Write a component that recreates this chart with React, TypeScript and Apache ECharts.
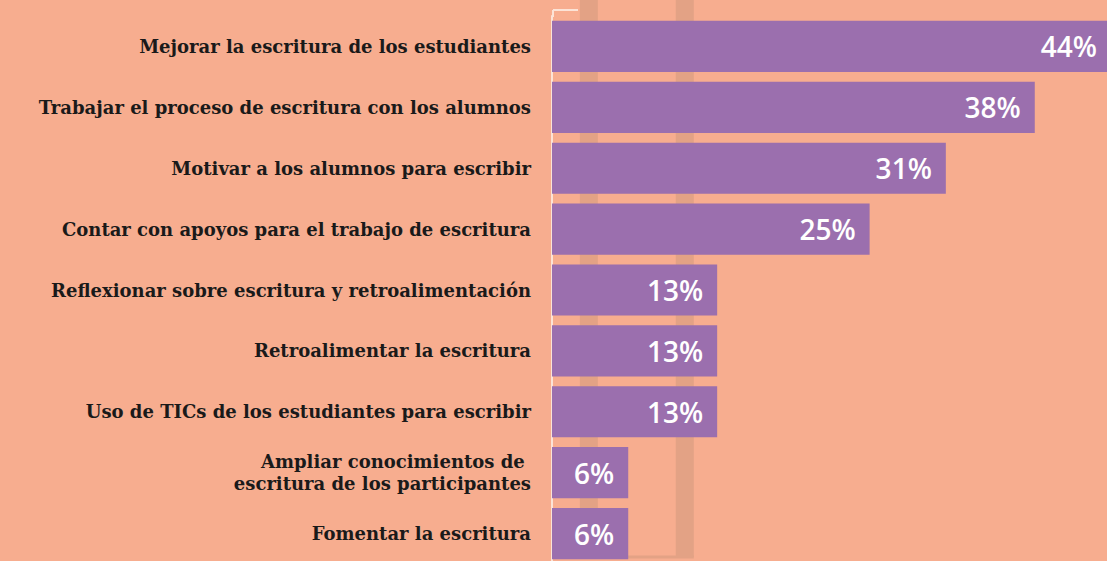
import React, { useEffect, useRef } from "react";
import * as echarts from "echarts";

const categories = [
  "Mejorar la escritura de los estudiantes",
  "Trabajar el proceso de escritura con los alumnos",
  "Motivar a los alumnos para escribir",
  "Contar con apoyos para el trabajo de escritura",
  "Reflexionar sobre escritura y retroalimentación",
  "Retroalimentar la escritura",
  "Uso de TICs de los estudiantes para escribir",
  "Ampliar conocimientos de \nescritura de los participantes",
  "Fomentar la escritura",
];
const values = [44, 38, 31, 25, 13, 13, 13, 6, 6];
const bandPositions = [2.9, 10.45];

export default function App() {
  const ref = useRef<HTMLDivElement>(null);
  useEffect(() => {
    const chart = echarts.init(ref.current!, null, { renderer: "svg" });
    chart.setOption({
      animation: false,
      backgroundColor: "#F7AD8F",
      grid: { left: 552, width: 559, top: 16, height: 548, containLabel: false },
      xAxis: {
        type: "value",
        min: 0,
        max: 44,
        show: false,
      },
      yAxis: {
        type: "category",
        inverse: true,
        data: categories,
        axisTick: { show: false },
        axisLine: { show: true, lineStyle: { color: "#FCE3D6", width: 2 } },
        axisLabel: {
          color: "#1a1a1a",
          fontFamily: "DejaVu Serif",
          fontWeight: "bold",
          fontSize: 18,
          margin: 21,
          lineHeight: 22,
          align: "right",
        },
      },
      series: [
        {
          type: "bar",
          data: values,
          barCategoryGap: "16%",
          itemStyle: { color: "#9B6FAE" },
          z: 3,
          label: {
            show: true,
            position: "insideRight",
            distance: 14,
            formatter: "{c}%",
            color: "#ffffff",
            fontFamily: "Open Sans",
            fontWeight: 600,
            fontSize: 28,
          },
        },
      ],
    });
    const bx = bandPositions.map((v) => chart.convertToPixel({ xAxisIndex: 0 }, v) as number);
    chart.setOption({
      graphic: [
        ...bx.map((x) => ({
          type: "rect",
          z: 0,
          shape: { x: x - 9, y: 0, width: 18, height: 557 },
          style: { fill: "#E3A285" },
        })),
        { type: "line", z: 0, shape: { x1: 625, y1: 557, x2: bx[1] + 9, y2: 557 }, style: { stroke: "#E3A285", lineWidth: 3 } },
        { type: "line", shape: { x1: 553, y1: 10, x2: 578, y2: 10 }, style: { stroke: "#FCE3D6", lineWidth: 2 } },
        { type: "line", shape: { x1: 553, y1: 10, x2: 553, y2: 17 }, style: { stroke: "#FCE3D6", lineWidth: 2 } },
      ],
    });
    return () => chart.dispose();
  }, []);
  return (
    <div
      ref={ref}
      style={{ position: "fixed", left: 0, top: 0, width: 1130, height: 575 }}
    />
  );
}
